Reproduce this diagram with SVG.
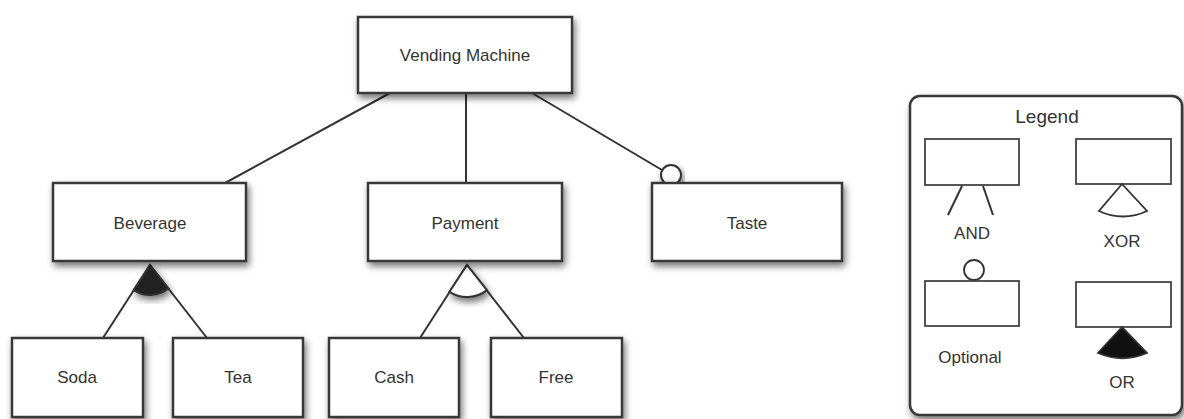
<svg xmlns="http://www.w3.org/2000/svg" width="1184" height="419" viewBox="0 0 1184 419">
  <defs>
    <filter id="shadow" x="-20%" y="-20%" width="140%" height="150%">
      <feDropShadow dx="2" dy="4" stdDeviation="3.5" flood-color="#000" flood-opacity="0.55"/>
    </filter>
  </defs>
  <style>
    .box { fill: #fff; stroke: #383838; stroke-width: 2.5; filter: url(#shadow); }
    .lbox { fill: #fff; stroke: #444; stroke-width: 1.8; }
    .edge { fill: none; stroke: #333; stroke-width: 2; }
    .label { font-family: "Liberation Sans", Arial, sans-serif; font-size: 17px; fill: #333; text-anchor: middle; }
    .legend-title { font-size: 19px; }
  </style>

  <rect width="1184" height="419" fill="#fff"/>

  <!-- connectors -->
  <g id="connectors">
    <line class="edge" x1="390" y1="93" x2="225" y2="183"/>
    <line class="edge" x1="466" y1="93" x2="466" y2="183"/>
    <line class="edge" x1="532" y1="93" x2="662" y2="170"/>
    <line class="edge" x1="150" y1="265" x2="103" y2="338"/>
    <line class="edge" x1="150" y1="265" x2="207" y2="338"/>
    <line class="edge" x1="467" y1="265" x2="420" y2="338"/>
    <line class="edge" x1="467" y1="265" x2="524" y2="338"/>
    <!-- OR group marker under Beverage -->
    <path class="edge" d="M150 265 L133.6 290.1 A30 30 0 0 0 168.6 288.5 Z" style="fill:#222;filter:url(#shadow)"/>
    <!-- XOR group marker under Payment -->
    <path class="edge" d="M467 265 L449.5 291.8 A32 32 0 0 0 486.9 290.1 Z" style="fill:#fff;filter:url(#shadow)"/>
    <!-- optional marker on Taste -->
    <circle class="edge" cx="671" cy="175" r="10" style="fill:#fff;filter:url(#shadow)"/>
  </g>

  <g id="node-vending-machine">
    <rect class="box" x="358" y="17" width="214" height="76"/>
    <text class="label" x="465" y="61">Vending Machine</text>
  </g>
  <g id="node-beverage">
    <rect class="box" x="53" y="183" width="193" height="78"/>
    <text class="label" x="150" y="229">Beverage</text>
  </g>
  <g id="node-payment">
    <rect class="box" x="368" y="183" width="194" height="78"/>
    <text class="label" x="465" y="229">Payment</text>
  </g>
  <g id="node-taste">
    <rect class="box" x="652" y="183" width="190" height="78"/>
    <text class="label" x="747" y="229">Taste</text>
  </g>
  <g id="node-soda">
    <rect class="box" x="12" y="338" width="131" height="79"/>
    <text class="label" x="77" y="383">Soda</text>
  </g>
  <g id="node-tea">
    <rect class="box" x="173" y="338" width="130" height="79"/>
    <text class="label" x="238" y="383">Tea</text>
  </g>
  <g id="node-cash">
    <rect class="box" x="329" y="338" width="130" height="79"/>
    <text class="label" x="394" y="383">Cash</text>
  </g>
  <g id="node-free">
    <rect class="box" x="491" y="338" width="131" height="79"/>
    <text class="label" x="556" y="383">Free</text>
  </g>

  <!-- legend panel -->
  <g id="legend">
    <rect class="box" x="910" y="96" width="272" height="319" rx="10" ry="10"/>
    <text class="label legend-title" x="1047" y="123">Legend</text>

    <rect class="lbox" x="925" y="139" width="94" height="46"/>
    <line class="edge" x1="962" y1="186" x2="948" y2="215" stroke-width="1.8"/>
    <line class="edge" x1="983" y1="186" x2="993" y2="215" stroke-width="1.8"/>
    <text class="label" x="972" y="239">AND</text>

    <rect class="lbox" x="1076" y="139" width="95" height="45"/>
    <path class="edge" d="M1122 184 L1099 211 A55 55 0 0 0 1147 211 Z" style="fill:#fff;stroke-width:1.8"/>
    <text class="label" x="1122" y="247">XOR</text>

    <circle class="edge" cx="974" cy="270" r="10" style="fill:#fff;stroke-width:1.8"/>
    <rect class="lbox" x="925" y="281" width="94" height="45"/>
    <text class="label" x="970" y="363">Optional</text>

    <rect class="lbox" x="1076" y="282" width="95" height="45"/>
    <path class="edge" d="M1122 327 L1098 353 A62 62 0 0 0 1147 353 Z" style="fill:#111;stroke-width:1.8"/>
    <text class="label" x="1122" y="388">OR</text>
  </g>
</svg>
